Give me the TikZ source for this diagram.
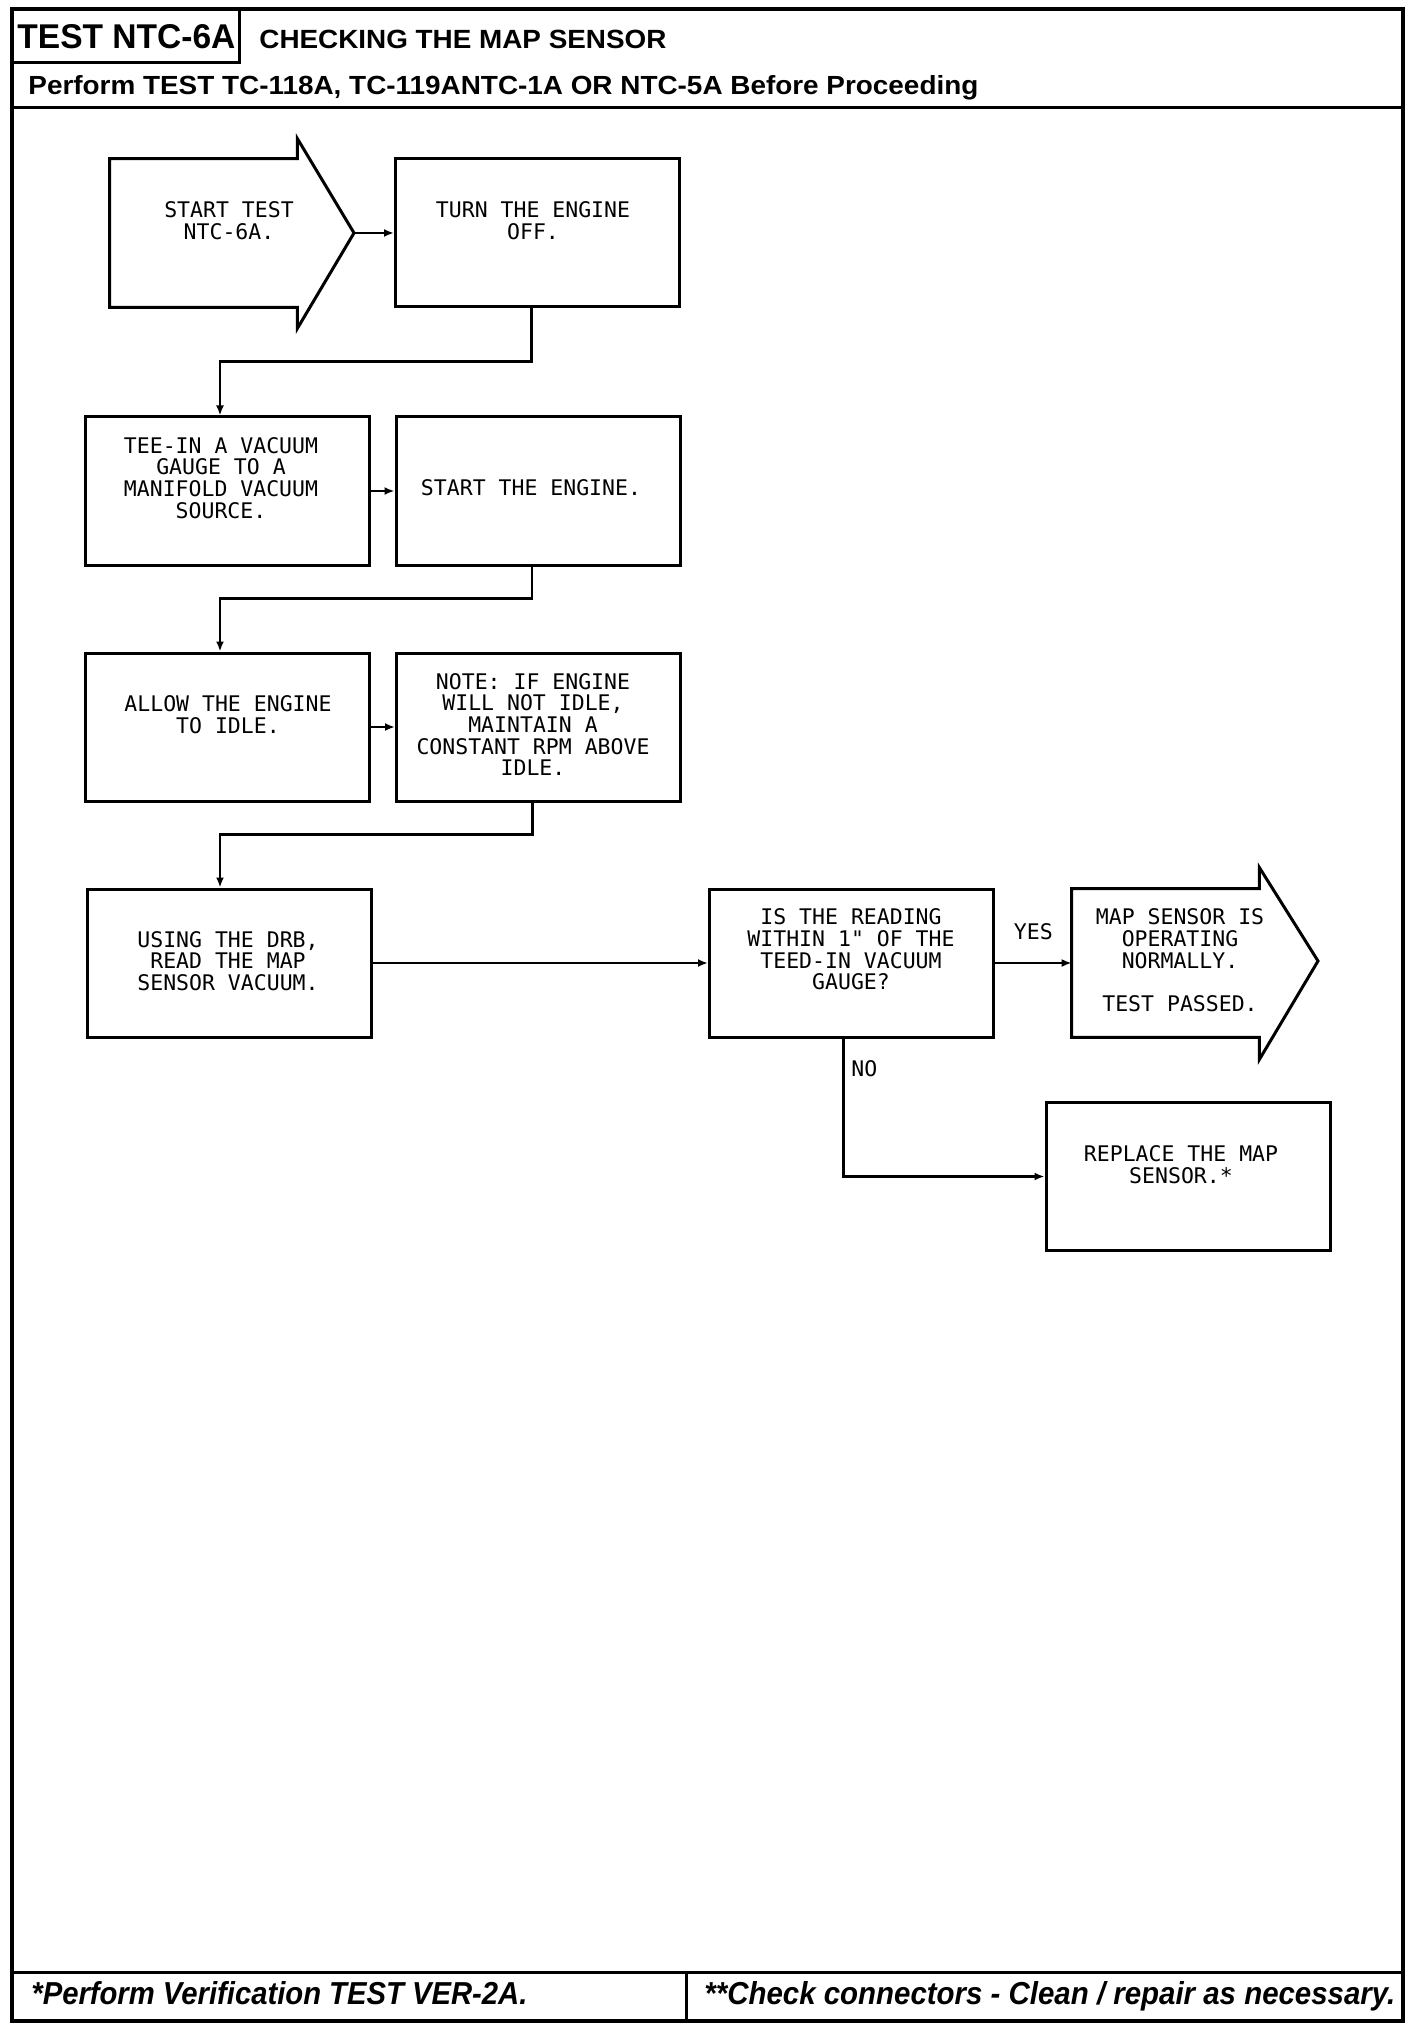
\documentclass[tikz,border=0pt]{standalone}
\usepackage{fontspec}
\usepackage{graphicx}
\usetikzlibrary{arrows.meta}
\newfontfamily\plotfont{DejaVu Sans Mono}
\newfontfamily\hfont{Liberation Sans}
\begin{document}
\begin{tikzpicture}[x=0.5pt,y=-0.5pt,
  box/.style={draw,line width=1.5pt,rectangle,inner sep=0pt,minimum width=142pt,minimum height=74pt},
  ghost/.style={rectangle,inner sep=0pt,minimum width=93.5pt,minimum height=74pt},
  txt/.style={font=\plotfont\fontsize{10.75pt}{10.85pt}\selectfont,align=center,inner sep=0pt},
  conn/.style={line width=1.4pt,-{Latex[length=5pt,width=4pt]}},
  frame/.style={line width=2pt},
  rule/.style={line width=1.5pt,line join=miter},
  head/.style={inner sep=0pt,anchor=base west}]
\useasboundingbox (0,0) rectangle (1424,2032);

% ---------- frame ----------
\draw[frame] (12,9) rectangle (1403,2021);
\draw[rule] (12,9) rectangle (239,63);
\draw[rule] (12,108) -- (1403,108);
\draw[rule] (12,1972) -- (1403,1972);
\draw[rule] (686,1972) -- (686,2021);

\node[head] (title) at (17,49) {\resizebox{109pt}{12pt}{\hfont\bfseries TEST NTC-6A}};
\node[head] (check) at (259,49) {\resizebox{203.5pt}{9.2pt}{\hfont\bfseries CHECKING THE MAP SENSOR}};
\node[head] (perform) at (28,95) {\resizebox{475pt}{9.5pt}{\hfont\bfseries Perform TEST TC-118A, TC-119ANTC-1A OR NTC-5A Before Proceeding}};
\node[head] (foot1) at (31,2004) {\resizebox{248pt}{11.5pt}{\hfont\bfseries\itshape *Perform Verification TEST VER-2A.}};
\node[head] (foot2) at (704,2004) {\resizebox{345.5pt}{11.5pt}{\hfont\bfseries\itshape **Check connectors - Clean / repair as necessary.}};

% ---------- start arrow ----------
\node[ghost] (start) at (203.5,233) {};
\coordinate (starttip) at (354,233);
\draw[rule] (start.south east) -- ++(0,21) -- (starttip) -- ([yshift=10pt]start.north east)
  -- (start.north east) -- (start.north west) -- (start.south west) -- cycle;
\node[txt] (startt) at (229,221) {START TEST\\NTC-6A.};

% ---------- boxes ----------
\node[box] (turn) at (537.5,233) {};
\node[txt] (turnt) at (533,221) {TURN THE ENGINE\\OFF.};

\node[box] (tee) at (227,491) {};
\node[txt] (teet) at (221,478) {TEE-IN A VACUUM\\GAUGE TO A\\MANIFOLD VACUUM\\SOURCE.};

\node[box] (eng) at (538,491) {};
\node[txt] (engt) at (531,488) {START THE ENGINE.};

\node[box] (allow) at (227,727) {};
\node[txt] (allowt) at (228,714.5) {ALLOW THE ENGINE\\TO IDLE.};

\node[box] (note) at (538.5,727) {};
\node[txt] (notet) at (533,724.5) {NOTE: IF ENGINE\\WILL NOT IDLE,\\MAINTAIN A\\CONSTANT RPM ABOVE\\IDLE.};

\node[box] (using) at (229,963) {};
\node[txt] (usingt) at (228,961) {USING THE DRB,\\READ THE MAP\\SENSOR VACUUM.};

\node[box] (is) at (851.5,963) {};
\node[txt] (ist) at (851,949.5) {IS THE READING\\WITHIN 1" OF THE\\TEED-IN VACUUM\\GAUGE?};

\node[ghost] (map) at (1165.5,963) {};
\coordinate (maptip) at (1318,961);
\draw[rule] (map.south east) -- ++(0,22) -- (maptip) -- ([yshift=10.5pt]map.north east)
  -- (map.north east) -- (map.north west) -- (map.south west) -- cycle;
\node[txt] (mapt) at (1180,960.5) {MAP SENSOR IS\\OPERATING\\NORMALLY.\\[10.85pt]TEST PASSED.};

\node[box] (replace) at (1188,1176.5) {};
\node[txt] (replacet) at (1181,1165) {REPLACE THE MAP\\SENSOR.*};

% ---------- connectors ----------
\draw[conn] (starttip) -- (turn.west);
\draw[conn] ([xshift=-3pt]turn.south) -- ++(0,53) -| ([xshift=-3.5pt]tee.north);
\draw[conn] (tee.east) -- (eng.west);
\draw[conn] ([xshift=-3pt]eng.south) -- ++(0,32) -| ([xshift=-3.5pt]allow.north);
\draw[conn] (allow.east) -- (note.west);
\draw[conn] ([xshift=-3pt]note.south) -- ++(0,32) -| ([xshift=-4.5pt]using.north);
\draw[conn] (using.east) -- (is.west);
\draw[conn] (is.east) -- node[txt,above=11pt] (yes) {YES} (map.west);
\draw[conn] ([xshift=-4pt]is.south) |- (replace.west);
\node[txt,anchor=west] (no) at (851,1069) {NO};
\end{tikzpicture}
\end{document}
